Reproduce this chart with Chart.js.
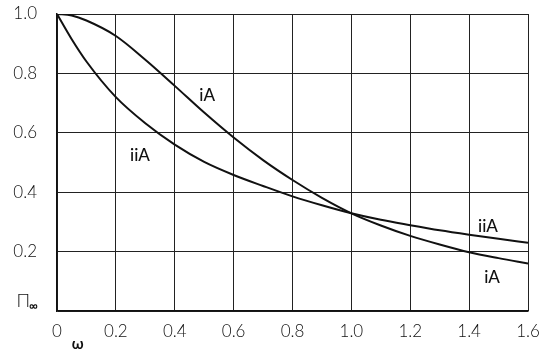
<!DOCTYPE html>
<html>
<head>
<meta charset="utf-8">
<script src="https://cdn.jsdelivr.net/npm/chart.js@4/dist/chart.umd.min.js"></script>
<style>
  html, body { margin: 0; padding: 0; background: #fff; }
  #wrap { width: 540px; height: 355px; }
</style>
</head>
<body>
<div id="wrap"><canvas id="c" width="540" height="355"></canvas></div>
<script>
// ---- data ----
const omega = [0, 0.05, 0.1, 0.2, 0.3, 0.4, 0.5, 0.6, 0.7, 0.8, 0.9, 1.0, 1.1, 1.2, 1.3, 1.4, 1.5, 1.6];
const seriesIA  = [1.0, 0.995, 0.978, 0.926, 0.846, 0.758, 0.668, 0.584, 0.508, 0.441, 0.381, 0.329, 0.288, 0.253, 0.224, 0.198, 0.178, 0.16];
const seriesIIA = [1.0, 0.915, 0.84, 0.72, 0.632, 0.56, 0.502, 0.458, 0.421, 0.386, 0.356, 0.329, 0.307, 0.289, 0.272, 0.257, 0.243, 0.23];
const xTicks = [0, 0.2, 0.4, 0.6, 0.8, 1.0, 1.2, 1.4, 1.6];
const yTicks = [0, 0.2, 0.4, 0.6, 0.8, 1.0];
const curveLabels = [
  { text: 'iA',  x: 0.51,  y: 0.724 },
  { text: 'iiA', x: 0.282, y: 0.525 },
  { text: 'iiA', x: 1.464, y: 0.283 },
  { text: 'iA',  x: 1.478, y: 0.114 }
];

const FONT = 'Lato, "Open Sans", sans-serif';

const toPts = (ys) => omega.map((x, i) => ({ x: x, y: ys[i] }));

const annotate = {
  id: 'annotate',
  afterDatasetsDraw(chart) {
    const ctx = chart.ctx;
    const xs = chart.scales.x, ys = chart.scales.y;
    ctx.save();
    ctx.fillStyle = '#111';
    ctx.textAlign = 'center';
    ctx.textBaseline = 'middle';
    ctx.font = '500 17px ' + FONT;
    curveLabels.forEach(l => {
      ctx.fillText(l.text, xs.getPixelForValue(l.x), ys.getPixelForValue(l.y));
    });
    // y-axis symbol at zero: Π∞
    const y0 = ys.getPixelForValue(0);
    ctx.textAlign = 'right';
    ctx.font = '300 18px ' + FONT;
    ctx.fillText('Π', 30, y0 - 10);
    ctx.textAlign = 'left';
    ctx.font = 'bold 12px ' + FONT;
    ctx.fillText('∞', 29, y0 - 5);
    // x-axis symbol ω
    ctx.textAlign = 'center';
    ctx.font = 'bold 15px ' + FONT;
    ctx.fillText('ω', xs.getPixelForValue(0.07), 344);
    ctx.restore();
  }
};

new Chart(document.getElementById('c'), {
  type: 'line',
  data: {
    datasets: [
      { label: 'iA',  data: toPts(seriesIA),  borderColor: '#111', borderWidth: 2, pointRadius: 0, fill: false, cubicInterpolationMode: 'monotone' },
      { label: 'iiA', data: toPts(seriesIIA), borderColor: '#111', borderWidth: 2, pointRadius: 0, fill: false, cubicInterpolationMode: 'monotone' }
    ]
  },
  options: {
    responsive: false,
    animation: false,
    layout: { padding: { left: 0, right: 12, top: 14, bottom: 0 } },
    plugins: { legend: { display: false }, tooltip: { enabled: false } },
    scales: {
      x: {
        type: 'linear', min: 0, max: 1.6,
        afterBuildTicks: (s) => { s.ticks = xTicks.map(v => ({ value: v })); },
        afterFit: (s) => { s.height = 44; s.paddingLeft = 0; s.paddingRight = 0; s.paddingTop = 0; s.paddingBottom = 0; },
        grid: { color: '#222', lineWidth: 1, drawTicks: false },
        border: { color: '#111', width: 1.5 },
        ticks: {
          padding: 10, color: '#111', maxRotation: 0,
          font: { family: FONT, size: 17, weight: '300' },
          callback: (v) => v === 0 ? '0' : Number(v).toFixed(1)
        }
      },
      y: {
        type: 'linear', min: 0, max: 1.0,
        afterBuildTicks: (s) => { s.ticks = yTicks.map(v => ({ value: v })); },
        afterFit: (s) => { s.width = 57; s.paddingLeft = 0; s.paddingRight = 0; s.paddingTop = 0; s.paddingBottom = 0; },
        grid: { color: '#222', lineWidth: 1, drawTicks: false },
        border: { color: '#111', width: 1.5 },
        ticks: {
          padding: 20, color: '#111',
          font: { family: FONT, size: 17, weight: '300' },
          callback: (v) => v === 0 ? '' : Number(v).toFixed(1)
        }
      }
    }
  },
  plugins: [annotate]
});
</script>
</body>
</html>
